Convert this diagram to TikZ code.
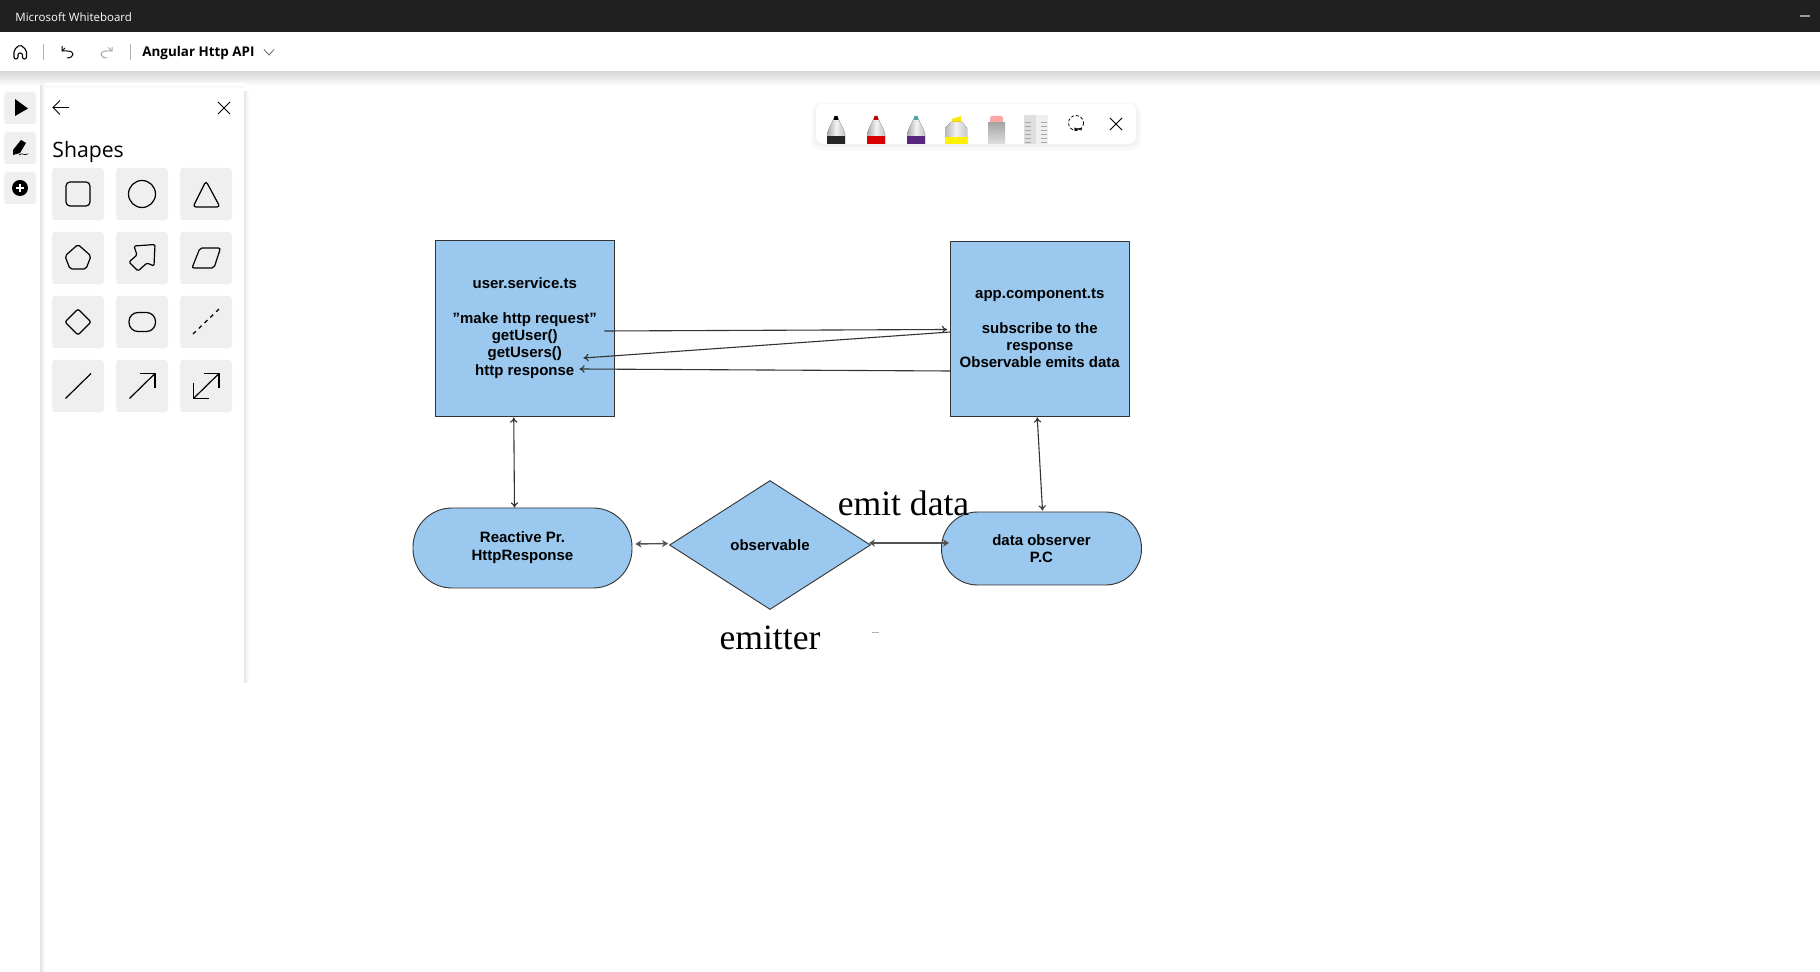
\documentclass[tikz,border=0pt]{standalone}
\usepackage{fontspec}
\setmainfont{Liberation Sans}
\newfontfamily\uifont{Open Sans}
\newfontfamily\seriffont{Liberation Serif}
\usetikzlibrary{calc}
\usetikzlibrary{arrows.meta}
\usetikzlibrary{shapes.geometric}
\definecolor{boxblue}{HTML}{9AC8EE}
\definecolor{barblack}{HTML}{202020}
\definecolor{btngray}{HTML}{EFEFEF}
\definecolor{edgegray}{HTML}{333333}
\tikzset{
  blockbox/.style={draw=edgegray,fill=boxblue,line width=0.45pt,align=center,font=\fontsize{7.5}{8.65}\selectfont\bfseries},
  pillbox/.style={blockbox,rounded corners=18pt},
  link/.style={draw=edgegray,line width=0.55pt,>={To[length=2.6pt,width=3.8pt]}},
  duallink/.style={draw=edgegray!85,line width=0.7pt,>={Stealth[length=3pt,width=3.6pt]},<->},
  bigword/.style={anchor=base,font=\fontsize{17.8}{20}\selectfont\seriffont},
  toolbtn/.style={fill=btngray,rounded corners=1.5pt},
  glyph/.style={draw=black,line width=0.6pt,rounded corners=1pt},
}
\newcommand{\shapebtn}[2]{\fill[toolbtn] (#1-26,#2-26) rectangle (#1+26,#2+26);}
\newcommand{\penicon}[3]{
\fill[left color=gray!70,right color=gray!50,middle color=gray!10] (#1-9,144) -- (#1-9,134) .. controls (#1-7,127) and (#1-4,123) .. (#1-2,118) -- (#1+2,118) .. controls (#1+4,123) and (#1+7,127) .. (#1+9,134) -- (#1+9,144) -- cycle;
\fill[#2] (#1-9,144) rectangle (#1+9,136);
\fill[#3] (#1-2.5,120) -- (#1-1.5,116) -- (#1+1.5,116) -- (#1+2.5,120) -- cycle;
}
\begin{document}
\begin{tikzpicture}[x=0.5pt,y=-0.5pt,inner sep=0pt]
\def\u{0.5pt}
\useasboundingbox (0,0) rectangle (1820,972);
\fill[white] (0,0) rectangle (1820,972);

% title bar and menu bar
\fill[top color=gray!30,bottom color=white] (0,72) rectangle (1820,86);
\fill[barblack] (0,0) rectangle (1820,32);
\node[anchor=west,text=white,font=\fontsize{5.75}{7}\selectfont\uifont] (title) at (15,17) {Microsoft Whiteboard};
\fill[gray!80] (1800,15) rectangle (1810,17);
\draw[glyph,line width=0.55pt] (14,59) -- (14,50) -- (20,44.5) -- (26.5,50) -- (26.5,59) -- (22.5,59) -- (22.5,53) -- (18,53) -- (18,59) -- cycle;
\draw[gray!60,line width=0.4pt] (43.5,44) -- (43.5,60);
\draw[gray!60,line width=0.4pt] (130.5,44) -- (130.5,60);
\draw[black,line width=0.5pt] (62,46) -- (62,51) -- (67,51) .. controls (76,51) and (74,58) .. (67,58);
\draw[black,line width=0.5pt] (65,48) -- (62,51);
\draw[gray!70,line width=0.5pt] (112,47) -- (112,51) -- (107,51) .. controls (98,51) and (100,58) .. (107,58);
\draw[gray!70,line width=0.5pt] (108.5,47.5) -- (112,51);
\node[anchor=west,font=\fontsize{6.7}{8}\selectfont\uifont\bfseries] (board) at (142,53) {Angular Http API};
\draw[gray!80!black,line width=0.4pt] (264,49.5) -- (269,55) -- (274,49.5);

% tool strip
\fill[left color=gray!22,right color=white] (40,86) rectangle (45,972);
\fill[top color=white,bottom color=gray!8] (46,84) rectangle (244,88);
\fill[left color=gray!20,right color=white] (244,92) rectangle (249,682);
\fill[toolbtn] (4,92) rectangle (36,124);
\fill[toolbtn] (4,132) rectangle (36,164);
\fill[toolbtn] (4,172) rectangle (36,204);
\fill[black] (15,99) -- (28,108.5) -- (15,116) -- cycle;
\fill[black] (13,150) -- (21,140) -- (26,143) -- (20,153) -- (13,155) -- cycle;
\draw[black,line width=0.35pt] (19,155) .. controls (22,152) and (23,156) .. (28,154);
\fill[black] (20,188) circle (8);
\draw[white,line width=0.6pt] (16,188) -- (24,188);
\draw[white,line width=0.6pt] (20,184) -- (20,192);

% shapes panel
\draw[black,line width=0.4pt] (69,107.5) -- (53,107.5);
\draw[black,line width=0.4pt] (60,100.5) -- (53,107.5) -- (60,114.5);
\draw[black,line width=0.4pt] (218,102) -- (230,114);
\draw[black,line width=0.4pt] (230,102) -- (218,114);
\node[anchor=base west,font=\fontsize{10.6}{14}\selectfont\uifont] (shapes) at (52,157.5) {Shapes};
\foreach \cx in {78,142,206} \foreach \cy in {194,258,322,386} {\shapebtn{\cx}{\cy}}
\draw[glyph,rounded corners=2pt] (66,182) rectangle (90,206);
\draw[glyph] (142,194) circle (13.5);
\draw[glyph,rounded corners=1.5pt] (206,181) -- (220,207) -- (193,207) -- cycle;
\draw[glyph] (78,244.5) -- (91,256) -- (86,269) -- (70,269) -- (65,256) -- cycle;
\draw[glyph,rounded corners=0.7pt] (155,244.5) -- (134,246) -- (137,255) -- (129,262) -- (138,271) -- (147,263) -- (154,266) -- cycle;
\draw[glyph] (200,248) -- (220.5,248) -- (214,268) -- (192,268) -- cycle;
\draw[glyph] (78,309) -- (91,322) -- (78,335) -- (65,322) -- cycle;
\draw[glyph,rounded corners=4.5pt] (129,312.5) rectangle (155.5,331.5);
\draw[black,line width=0.6pt,dash pattern=on 2pt off 2pt] (193,334) -- (219,309);
\draw[black,line width=0.6pt] (65.5,398.5) -- (91,373.5);
\draw[black,line width=0.6pt] (129.5,398.5) -- (155,373.5);
\draw[black,line width=0.6pt] (140,373.5) -- (155,373.5) -- (155,388.5);
\draw[black,line width=0.6pt] (193.5,398.5) -- (219,373.5);
\draw[black,line width=0.7pt] (204,373.5) -- (219,373.5) -- (219,388.5);
\draw[black,line width=0.7pt] (193.5,383.5) -- (193.5,398.5) -- (208.5,398.5);

% pen bar
\fill[gray!5,rounded corners=5pt] (811,103) rectangle (1141,151);
\fill[gray!10,rounded corners=4pt] (814,106) rectangle (1138,147);
\fill[white,rounded corners=4pt] (816,104) rectangle (1136,144);
\penicon{836}{black!85}{black}
\penicon{876}{red!85!black}{red!75!black}
\penicon{916}{violet!70!teal}{teal!70}
\fill[yellow!90!orange] (952,122) -- (952,119) -- (961,116) -- (961,122) -- cycle;
\fill[left color=gray!55,right color=gray!45,middle color=gray!10] (945,144) -- (945,128) -- (951,122) -- (962,122) -- (967,128) -- (967,144) -- cycle;
\fill[yellow] (945,137) rectangle (967,144);
\fill[red!35,rounded corners=1pt] (990,116) rectangle (1003,124);
\fill[top color=gray!70,bottom color=gray!25] (988,123) rectangle (1005,144);
\fill[gray!25] (1024,115) rectangle (1048,144);
\fill[gray!12] (1036,115) rectangle (1048,144);
\foreach \ty in {122,126,130,134,138,142} {
\draw[gray!70,line width=0.3pt] (1025,\ty) -- (1031,\ty);
\draw[gray!70,line width=0.3pt] (1041,\ty) -- (1047,\ty);
}
\draw[black,line width=0.4pt,dash pattern=on 1.5pt off 1pt] (1076,123) circle (7.5);
\draw[black,line width=0.4pt] (1074,130) -- (1082,128);
\draw[black,line width=0.4pt] (1074,128) -- (1082,130);
\draw[black,line width=0.4pt] (1110,118) -- (1122,130);
\draw[black,line width=0.4pt] (1122,118) -- (1110,130);

% diagram
\node[blockbox,minimum width=178.5*\u,minimum height=176*\u] (us) at (524.75,328) {user.service.ts\\[8.65pt]"make http request"\\getUser()\\getUsers()\\http response};
\node[blockbox,minimum width=178.5*\u,minimum height=175*\u] (ac) at (1039.75,328.5) {app.component.ts\\[8.65pt]subscribe to the\\response\\Observable emits data};
\node[pillbox,rounded corners=19.5pt,minimum width=219*\u,minimum height=80*\u] (rp) at (522.5,548) {Reactive Pr.\\[0.4pt]HttpResponse};
\node[blockbox,diamond,aspect=1.56,minimum width=201*\u,minimum height=129*\u] (ob) at (770,545) {observable};
\node[pillbox,minimum width=200*\u,minimum height=73*\u] (dp) at (1041.5,548.5) {data observer\\P.C};
\node[bigword] (ed) at (903.5,516) {emit data};
\node[bigword] (em) at (770,649) {emitter};
\draw[gray!60,line width=0.4pt] (872,632.5) -- (879,632.5);

\draw[link,->] ($(us.east) + (-10,3)$) -- ($(ac.west) + (-3,1)$);
\draw[link,->] ($(ac.west) + (0,3.5)$) -- ($(us.east) + (-31,30)$);
\draw[link,->] ($(ac.west) + (0,42.5)$) -- ($(us.east) + (-35,41)$);
\draw[link,<->] ($(us.south) + (-11,1)$) -- ($(rp.north) + (-8,0)$);
\draw[link,<->] ($(ac.south) + (-2.5,1)$) -- ($(dp.north) + (1,-1)$);
\draw[duallink] ($(rp.east) + (3,-4)$) -- ($(ob.west) + (-1,-1.5)$);
\draw[duallink] ($(ob.east) + (-2,-2)$) -- ($(dp.west) + (8,-5.5)$);
\end{tikzpicture}
\end{document}
